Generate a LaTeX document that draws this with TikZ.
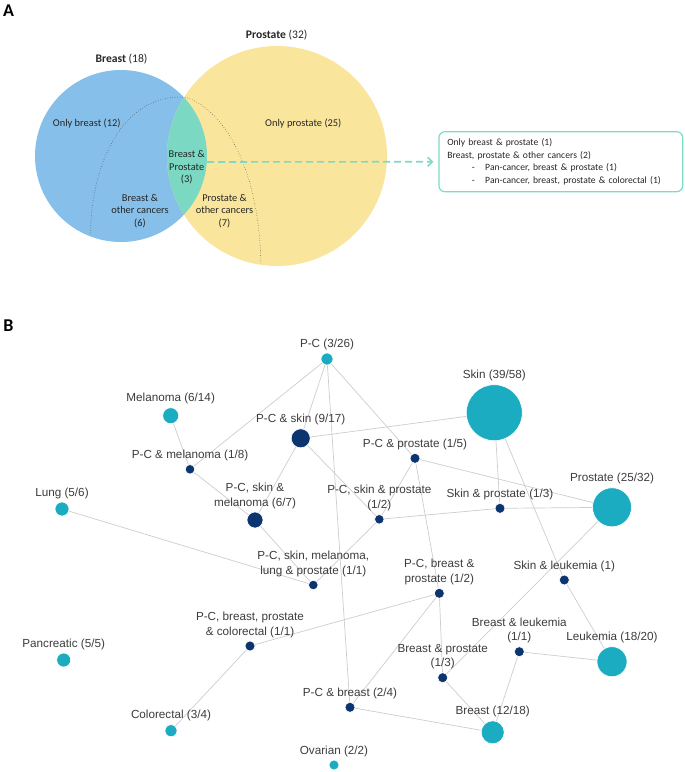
\documentclass[tikz,border=0pt]{standalone}
\usepackage{fontspec}
\setmainfont{Liberation Sans}
\newfontfamily\calibri{Carlito}
\usepackage{xcolor}
\usepackage{tikz}
\usetikzlibrary{arrows.meta, positioning}

\definecolor{breastblue}{RGB}{134,191,233}
\definecolor{prostyellow}{RGB}{249,229,156}
\definecolor{overlapgreen}{RGB}{122,216,195}
\definecolor{boxteal}{RGB}{125,218,200}
\definecolor{singlecyan}{RGB}{28,172,193}
\definecolor{combonavy}{RGB}{12,52,110}
\definecolor{edgegray}{RGB}{205,205,205}
\definecolor{labelgray}{RGB}{60,60,60}

\pgfdeclarelayer{edges}
\pgfsetlayers{edges,main}

\begin{document}
\begin{tikzpicture}[
    x=1pt, y=-1pt,
    >={Straight Barb[length=1.6mm]},
    label distance=3pt,
    panel/.style={font=\calibri\bfseries\fontsize{18}{21}\selectfont, inner sep=0},
    venntext/.style={font=\calibri\fontsize{10.4}{12.4}\selectfont, align=center,
                     text=black!85, inner sep=0},
    venntitle/.style={font=\calibri\fontsize{11.6}{14}\selectfont, text=black!85, inner sep=0},
    detailbox/.style={draw=boxteal, line width=1.2pt, rounded corners=6pt,
                      font=\calibri\fontsize{9.6}{12.6}\selectfont, align=left,
                      text width=227pt, inner xsep=8.4pt, minimum height=60pt, text=black!85},
    single/.style={circle, fill=singlecyan, draw=white, line width=0.6pt, inner sep=0},
    combo/.style={circle, fill=combonavy, draw=white, line width=0.6pt, inner sep=0},
    nlab/.style={font=\fontsize{11.7}{14.7}\selectfont, text=labelgray, align=center, inner sep=0},
    link/.style={draw=edgegray, line width=0.7pt},
]
  \useasboundingbox (0,0) rectangle (685,772);

  % panel A: venn
  \node[panel] (panela) at (8.5,11) {A};
  \fill[breastblue] (121,156) circle[radius=86];
  \fill[prostyellow] (277,156) circle[radius=110];
  \begin{scope}
    \clip (121,156) circle[radius=86];
    \fill[overlapgreen] (277,156) circle[radius=110];
  \end{scope}
  \draw[dotted, line width=0.5pt, black!75] (90.7,233) .. controls (91,165) and (122,95) .. (183,97)
        .. controls (205,100) and (258,140) .. (261,264);

  \node[venntitle] (breasttitle) at (121.5,59) {\textbf{Breast} (18)};
  \node[venntitle] (prosttitle) at (276.7,35) {\textbf{Prostate} (32)};
  \node[venntext] (onlybreast) at (86.7,123.3) {Only breast (12)};
  \node[venntext] (onlyprost) at (303.3,123.3) {Only prostate (25)};
  \node[venntext] (both) at (186.7,167.5) {Breast \&\\Prostate\\(3)};
  \node[venntext] (breastother) at (140,210.8) {Breast \&\\other cancers\\(6)};
  \node[venntext] (prostother) at (224.5,210.8) {Prostate \&\\other cancers\\(7)};

  \node[detailbox, anchor=west] (details) at (438.3,161.7)
    {Only breast \& prostate (1)\\
     Breast, prostate \& other cancers (2)\\
     \hspace*{24.5pt}-\hspace{10.5pt}Pan-cancer, breast \& prostate (1)\\
     \hspace*{24.5pt}-\hspace{10.5pt}Pan-cancer, breast, prostate \& colorectal (1)};
  \coordinate (lensright) at (207,162);
  \draw[boxteal, line width=1.6pt, dash pattern=on 7pt off 4pt, ->, shorten >=5pt]
        (lensright) -- (details.west);

  % panel B: network
  \node[panel] (panelb) at (8.3,326) {B};
  \node[single, minimum size=12pt, label={[nlab]above:P-C (3/26)}] (pc) at (327,359) {};
  \node[single, minimum size=16pt, label={[nlab]above:Melanoma (6/14)}] (melanoma) at (170.7,415.7) {};
  \node[combo, minimum size=19pt, label={[nlab]above:P-C \& skin (9/17)}] (pcskin) at (300.7,438.3) {};
  \node[single, minimum size=56pt, label={[nlab]above:Skin (39/58)}] (skin) at (494.3,412.7) {};
  \node[combo, minimum size=9.5pt, label={[nlab]above:P-C \& melanoma (1/8)}] (pcmel) at (190,469.3) {};
  \node[combo, minimum size=10pt, label={[nlab]above:P-C \& prostate (1/5)}] (pcpros) at (415,458.3) {};
  \node[single, minimum size=14pt, label={[nlab]above:Lung (5/6)}] (lung) at (62,509) {};
  \node[combo, minimum size=16pt, label={[nlab]above:{P-C, skin \&\\melanoma (6/7)}}] (pcskinmel) at (255,520) {};
  \node[combo, minimum size=9.5pt, label={[nlab]above:{P-C, skin \& prostate\\(1/2)}}] (pcskinpros) at (379.3,519.3) {};
  \node[combo, minimum size=10pt, label={[nlab]above:Skin \& prostate (1/3)}] (skinpros) at (500,508.3) {};
  \node[single, minimum size=39pt, label={[nlab]above:Prostate (25/32)}] (prostate) at (612,507.3) {};
  \node[combo, minimum size=9.5pt, label={[nlab]above:{P-C, skin, melanoma,\\lung \& prostate (1/1)}}] (pcskinmellung) at (313.3,585) {};
  \node[combo, minimum size=10pt, label={[nlab]above:{P-C, breast \&\\prostate (1/2)}}] (pcbreastpros) at (439.3,593.3) {};
  \node[combo, minimum size=10pt, label={[nlab]above:Skin \& leukemia (1)}] (skinleuk) at (564.3,580) {};
  \node[combo, minimum size=10pt, label={[nlab]above:{P-C, breast, prostate\\\& colorectal (1/1)}}] (pcbreastproscol) at (250,646) {};
  \node[single, minimum size=14pt, label={[nlab]above:Pancreatic (5/5)}] (pancreatic) at (63.7,660) {};
  \node[combo, minimum size=10pt, label={[nlab]above:{Breast \& leukemia\\(1/1)}}] (breastleuk) at (519.3,651.7) {};
  \node[single, minimum size=30pt, label={[nlab]above:Leukemia (18/20)}] (leukemia) at (612,661.7) {};
  \node[combo, minimum size=10pt, label={[nlab]above:{Breast \& prostate\\(1/3)}}] (breastpros) at (442.7,677.7) {};
  \node[combo, minimum size=10pt, label={[nlab]above:P-C \& breast (2/4)}] (pcbreast) at (350,707.3) {};
  \node[single, minimum size=23pt, label={[nlab]above:Breast (12/18)}] (breast) at (492.7,732.3) {};
  \node[single, minimum size=12pt, label={[nlab]above:Colorectal (3/4)}] (colorectal) at (171,730.7) {};
  \node[single, minimum size=10pt, label={[nlab]above:Ovarian (2/2)}] (ovarian) at (334,765) {};

  \begin{pgfonlayer}{edges}
    \draw[link] (pc) -- (pcmel);
    \draw[link] (pc) -- (pcskin);
    \draw[link] (pc) -- (pcbreast);
    \draw[link] (pc) -- (pcpros);
    \draw[link] (melanoma) -- (pcmel);
    \draw[link] (pcmel) -- (pcskinmel);
    \draw[link] (pcskin) -- (skin);
    \draw[link] (pcskin) -- (pcskinmel);
    \draw[link] (pcskin) -- (pcskinpros);
    \draw[link] (pcpros) -- (pcskinpros);
    \draw[link] (pcpros) -- (prostate);
    \draw[link] (pcpros) -- (pcbreastpros);
    \draw[link] (skin) -- (skinpros);
    \draw[link] (skin) -- (skinleuk);
    \draw[link] (skinpros) -- (pcskinpros);
    \draw[link] (skinpros) -- (prostate);
    \draw[link] (prostate) -- (breastpros);
    \draw[link] (skinleuk) -- (leukemia);
    \draw[link] (lung) -- (pcskinmellung);
    \draw[link] (pcskinmel) -- (pcskinmellung);
    \draw[link] (pcskinpros) -- (pcskinmellung);
    \draw[link] (pcbreastpros) -- (pcbreastproscol);
    \draw[link] (pcbreastpros) -- (breastpros);
    \draw[link] (pcbreastpros) -- (pcbreast);
    \draw[link] (pcbreastproscol) -- (colorectal);
    \draw[link] (breastleuk) -- (leukemia);
    \draw[link] (breastleuk) -- (breast);
    \draw[link] (breastpros) -- (breast);
    \draw[link] (pcbreast) -- (breast);
  \end{pgfonlayer}
\end{tikzpicture}
\end{document}
